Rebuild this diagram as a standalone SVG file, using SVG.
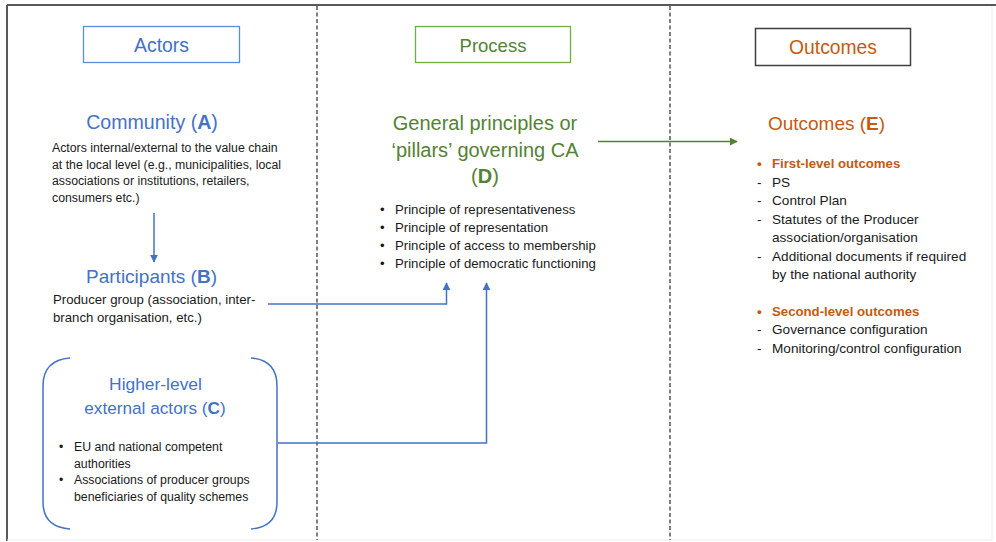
<svg xmlns="http://www.w3.org/2000/svg" width="996" height="542" viewBox="0 0 996 542">
<defs>
<style>
text{font-family:"Liberation Sans",Arial,sans-serif}
.blue{fill:#4472C4}
.green{fill:#548235}
.orange{fill:#C55A11}
.body{fill:#1a1a1a;font-size:12.3px}
.body13{fill:#1a1a1a;font-size:13.2px}
.body14{fill:#1a1a1a;font-size:13.6px}
.dash{stroke:#7F7F7F;stroke-width:2;stroke-dasharray:4 2.5;fill:none}
.cb{stroke:#4472C4;stroke-width:1.5;fill:none}
.cg{stroke:#548235;stroke-width:1.5;fill:none}
</style>
<marker id="ab" viewBox="0 0 10 10" refX="9" refY="5" markerWidth="8" markerHeight="8" orient="auto-start-reverse" markerUnits="userSpaceOnUse"><path d="M0,0L10,5L0,10z" fill="#4472C4"/></marker>
<marker id="ag" viewBox="0 0 10 10" refX="9" refY="5" markerWidth="8" markerHeight="8" orient="auto" markerUnits="userSpaceOnUse"><path d="M0,0L10,5L0,10z" fill="#548235"/></marker>
</defs>
<rect width="996" height="542" fill="#fff"/>
<g id="frame">
<line x1="7" y1="5" x2="996" y2="5" stroke="#595959" stroke-width="2"/>
<line x1="7" y1="5" x2="7" y2="541" stroke="#595959" stroke-width="2"/>
<line x1="992" y1="6" x2="992" y2="540" stroke="#EDEDED" stroke-width="1"/>
<line x1="7" y1="540" x2="992" y2="540" stroke="#EDEDED" stroke-width="1"/>
<line class="dash" x1="317" y1="6" x2="317" y2="540"/>
<line class="dash" x1="670" y1="6" x2="670" y2="540"/>
</g>
<g id="actors-header">
<rect x="83.5" y="26.5" width="156" height="36" fill="none" stroke="#5B8BD9" stroke-width="1.3"/>
<text x="161.5" y="52" text-anchor="middle" font-size="19.4" class="blue">Actors</text>
</g>
<g id="process-header">
<rect x="415.5" y="26.5" width="155" height="36" fill="none" stroke="#70AD47" stroke-width="1.3"/>
<text x="493" y="52" text-anchor="middle" font-size="18.5" class="green">Process</text>
</g>
<g id="outcomes-header">
<rect x="755.5" y="28.5" width="155" height="37" fill="none" stroke="#404040" stroke-width="1.5"/>
<text x="833" y="54" text-anchor="middle" font-size="19.3" class="orange">Outcomes</text>
</g>
<g id="community">
<text x="152" y="129" text-anchor="middle" font-size="19.6" class="blue">Community (<tspan font-weight="bold">A</tspan>)</text>
<text class="body" x="52" y="152">Actors internal/external to the value chain</text>
<text class="body" x="52" y="168.5">at the local level (e.g., municipalities, local</text>
<text class="body" x="52" y="185">associations or institutions, retailers,</text>
<text class="body" x="52" y="201.5">consumers etc.)</text>
</g>
<g id="participants">
<text x="151.5" y="283" text-anchor="middle" font-size="19" class="blue">Participants (<tspan font-weight="bold">B</tspan>)</text>
<text class="body13" x="53" y="304">Producer group (association, inter-</text>
<text class="body13" x="53" y="322">branch organisation, etc.)</text>
</g>
<g id="higher-level">
<path class="cb" d="M70,358 Q43,360 43,386 L43,502 Q43,527 70,529"/>
<path class="cb" d="M251,358 Q277,360 277,386 L277,502 Q277,527 251,529"/>
<text x="155.5" y="390" text-anchor="middle" font-size="17.4" class="blue">Higher-level</text>
<text x="155" y="414" text-anchor="middle" font-size="17.2" class="blue">external actors (<tspan font-weight="bold">C</tspan>)</text>
<text class="body" x="59" y="451">•</text>
<text class="body" x="74" y="451">EU and national competent</text>
<text class="body" x="74" y="467.5">authorities</text>
<text class="body" x="59" y="484">•</text>
<text class="body" x="74" y="484">Associations of producer groups</text>
<text class="body" x="74" y="500.5">beneficiaries of quality schemes</text>
</g>
<g id="principles">
<text x="485" y="130" text-anchor="middle" font-size="20" class="green">General principles or</text>
<text x="485" y="157" text-anchor="middle" font-size="20" class="green">‘pillars’ governing CA</text>
<text x="485" y="183" text-anchor="middle" font-size="20" class="green">(<tspan font-weight="bold">D</tspan>)</text>
<text class="body13" x="380" y="214">•</text>
<text class="body13" x="395" y="214">Principle of representativeness</text>
<text class="body13" x="380" y="232">•</text>
<text class="body13" x="395" y="232">Principle of representation</text>
<text class="body13" x="380" y="250">•</text>
<text class="body13" x="395" y="250">Principle of access to membership</text>
<text class="body13" x="380" y="268">•</text>
<text class="body13" x="395" y="268">Principle of democratic functioning</text>
</g>
<g id="outcomes">
<text x="826.5" y="130" text-anchor="middle" font-size="19" class="orange">Outcomes (<tspan font-weight="bold">E</tspan>)</text>
<text class="body14" x="757" y="168" font-weight="bold" style="fill:#C55A11">•</text>
<text class="body13" x="772" y="168" font-weight="bold" style="fill:#C55A11">First-level outcomes</text>
<text class="body14" x="757" y="187">-</text>
<text class="body14" x="772" y="187">PS</text>
<text class="body14" x="757" y="205">-</text>
<text class="body14" x="772" y="205">Control Plan</text>
<text class="body14" x="757" y="224">-</text>
<text class="body14" x="772" y="224">Statutes of the Producer</text>
<text class="body14" x="772" y="242">association/organisation</text>
<text class="body14" x="757" y="261">-</text>
<text class="body14" x="772" y="261">Additional documents if required</text>
<text class="body14" x="772" y="279">by the national authority</text>
<text class="body14" x="757" y="316" font-weight="bold" style="fill:#C55A11">•</text>
<text class="body13" x="772" y="316" font-weight="bold" style="fill:#C55A11">Second-level outcomes</text>
<text class="body14" x="757" y="334">-</text>
<text class="body14" x="772" y="334">Governance configuration</text>
<text class="body14" x="757" y="353">-</text>
<text class="body14" x="772" y="353">Monitoring/control configuration</text>
</g>
<g id="connectors">
<line class="cb" x1="154" y1="213" x2="154" y2="262" marker-end="url(#ab)"/>
<polyline class="cb" points="268,304 446.5,304 446.5,283" marker-end="url(#ab)"/>
<polyline class="cb" points="278,443 486.5,443 486.5,283" marker-end="url(#ab)"/>
<line class="cg" x1="598" y1="141.5" x2="737" y2="141.5" marker-end="url(#ag)"/>
</g>
</svg>
